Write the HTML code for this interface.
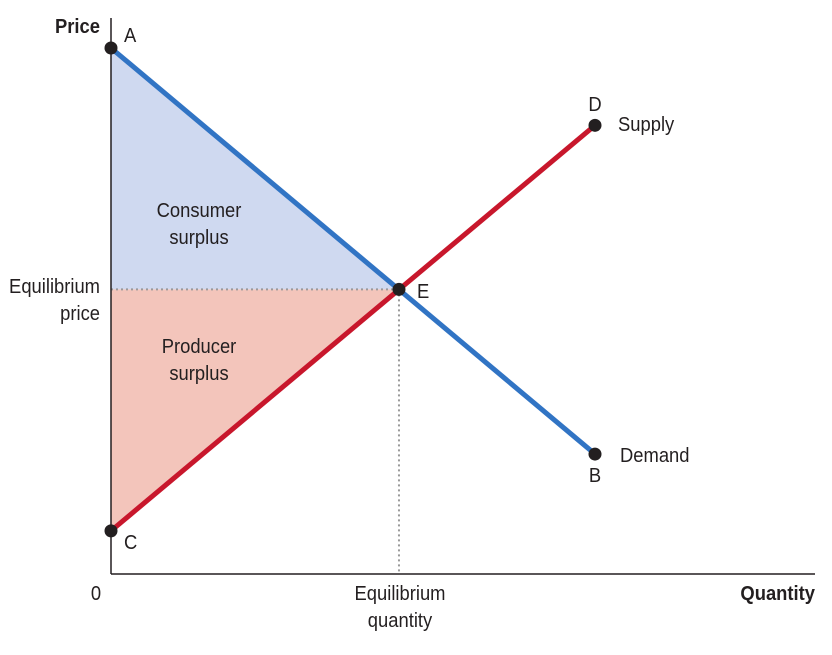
<!DOCTYPE html>
<html><head><meta charset="utf-8"><style>
body{margin:0;background:#fff}
svg text{font-family:"Liberation Sans Narrow","Liberation Sans",sans-serif;font-size:20px;fill:#231f20}
</style></head><body>
<svg width="832" height="650" viewBox="0 0 832 650" id="c"></svg>
<script>
const demandQ=[0,100];
const demandP=[100,22.8];
const supplyQ=[0,100];
const supplyP=[8.2,85.3];
const eqQ=[59.5];
const eqP=[54.1];
const X=q=>111+q*4.84, Y=p=>574-p*5.26;
const svg=document.getElementById('c');
const NS='http://www.w3.org/2000/svg';
function mk(t,a,name,txt){const e=document.createElementNS(NS,t);for(const k in a)e.setAttribute(k,a[k]);


if(txt!==undefined)e.textContent=txt;svg.appendChild(e);return e;}
const ex=X(eqQ[0]),ey=Y(eqP[0]);
const ax=X(demandQ[0]),ay=Y(demandP[0]),cx=X(supplyQ[0]),cy=Y(supplyP[0]);
mk('polygon',{points:`${ax},${ay} ${ex},${ey} ${ax},${ey}`,fill:'#cfd9f0'},'consumer-surplus-area');
mk('polygon',{points:`${cx},${cy} ${ex},${ey} ${cx},${ey}`,fill:'#f3c5bb'},'producer-surplus-area');
mk('line',{x1:111,y1:ey,x2:ex,y2:ey,stroke:'#999','stroke-width':2,'stroke-dasharray':'2,3'},'equilibrium-price-line');
mk('line',{x1:ex,y1:ey,x2:ex,y2:574,stroke:'#999','stroke-width':2,'stroke-dasharray':'2,3'},'equilibrium-quantity-line');
mk('line',{x1:111,y1:18,x2:111,y2:574,stroke:'#231f20','stroke-width':1.5},'y-axis');
mk('line',{x1:111,y1:574,x2:815,y2:574,stroke:'#231f20','stroke-width':1.5},'x-axis');
mk('line',{x1:X(demandQ[0]),y1:Y(demandP[0]),x2:X(demandQ[1]),y2:Y(demandP[1]),stroke:'#3174c4','stroke-width':5},'demand-line');
mk('line',{x1:X(supplyQ[0]),y1:Y(supplyP[0]),x2:X(supplyQ[1]),y2:Y(supplyP[1]),stroke:'#c8172c','stroke-width':5},'supply-line');
[[X(demandQ[0]),Y(demandP[0]),'point-a'],[X(demandQ[1]),Y(demandP[1]),'point-b'],[X(supplyQ[0]),Y(supplyP[0]),'point-c'],[X(supplyQ[1]),Y(supplyP[1]),'point-d'],[ex,ey,'point-e']]
.forEach(p=>mk('circle',{cx:p[0],cy:p[1],r:6.5,fill:'#231f20'},p[2]));
const T=(x,y,s,n,o={})=>mk('text',Object.assign({x:0,y:0,transform:`translate(${x},${y}) scale(0.92,1)`},o),n,s);
T(100,33,'Price','y-axis-title',{'text-anchor':'end','font-weight':'bold'});
T(815,600,'Quantity','x-axis-title',{'text-anchor':'end','font-weight':'bold'});
T(96,600,'0','origin-label',{'text-anchor':'middle'});
T(124,42,'A','label-a');T(124,549,'C','label-c');
T(595,111,'D','label-d',{'text-anchor':'middle'});T(595,482,'B','label-b',{'text-anchor':'middle'});
T(417,298,'E','label-e');
T(618,131,'Supply','supply-label');T(620,462,'Demand','demand-label');
T(100,293,'Equilibrium','eq-price-label-1',{'text-anchor':'end'});T(100,320,'price','eq-price-label-2',{'text-anchor':'end'});
T(400,600,'Equilibrium','eq-qty-label-1',{'text-anchor':'middle'});T(400,627,'quantity','eq-qty-label-2',{'text-anchor':'middle'});
T(199,217,'Consumer','cs-label-1',{'text-anchor':'middle'});T(199,244,'surplus','cs-label-2',{'text-anchor':'middle'});
T(199,353,'Producer','ps-label-1',{'text-anchor':'middle'});T(199,380,'surplus','ps-label-2',{'text-anchor':'middle'});
</script></body></html>
